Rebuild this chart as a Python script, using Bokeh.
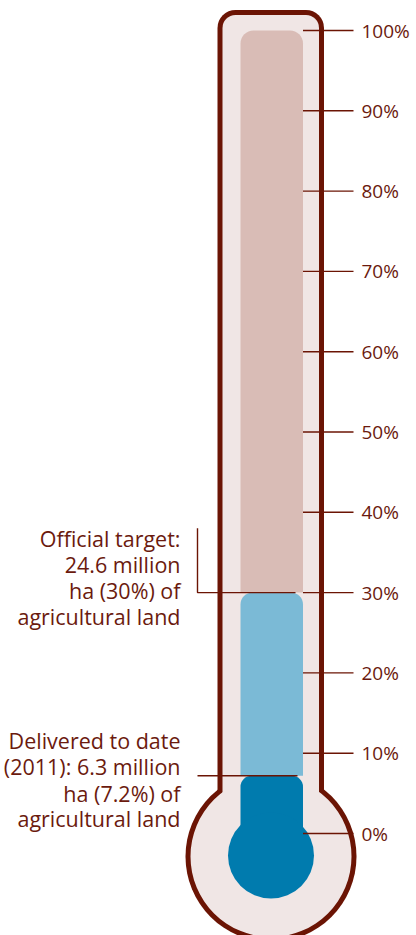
from bokeh.plotting import figure
from bokeh.models import Range1d, ColumnDataSource
from bokeh.core.properties import value
from bokeh.embed import file_html
from bokeh.resources import INLINE

# ---- data ----
tick_values = [0, 10, 20, 30, 40, 50, 60, 70, 80, 90, 100]
tick_labels = ["0%", "10%", "20%", "30%", "40%", "50%", "60%", "70%", "80%", "90%", "100%"]
scale_max = 100
official_target = 30.0
delivered = 7.2
target_lines = ["Official target:", "24.6 million", "ha (30%) of", "agricultural land"]
delivered_lines = ["Delivered to date", "(2011): 6.3 million", "ha (7.2%) of", "agricultural land"]

# ---- style ----
DARK = "#6b1404"
TEXT = "#6b1a0e"
PINK = "#f0e6e5"
TAN = "#d9bcb6"
LBLUE = "#7bbad6"
DBLUE = "#007bae"
FONT = "Open Sans"

W, H = 416, 935
PX = 8.03          # pixels per percent point
Y0 = 833           # pixel row of 0 %
y_top = Y0 / PX
y_bot = -(H - Y0) / PX

p = figure(width=W, height=H, x_range=Range1d(0, W), y_range=Range1d(y_bot, y_top),
           output_backend="svg", toolbar_location=None, min_border=0)
p.axis.visible = False
p.grid.visible = False
p.outline_line_color = None
p.background_fill_color = "white"
p.border_fill_color = "white"

def pct(px_img):
    return (Y0 - px_img) / PX

cx = 270.5
bulb_y = pct(856)

# outer thermometer (outline)
p.circle(x=[cx], y=[bulb_y], radius=85.5, radius_units="screen", fill_color=DARK, line_color=None)
p.quad(left=[217], right=[323.5], top=[pct(9.5)], bottom=[bulb_y], fill_color=DARK, line_color=None,
       border_radius=(18, 18, 0, 0))
p.circle(x=[cx], y=[bulb_y], radius=80.5, radius_units="screen", fill_color=PINK, line_color=None)
p.quad(left=[222], right=[318.5], top=[pct(14.5)], bottom=[bulb_y], fill_color=PINK, line_color=None,
       border_radius=(13, 13, 0, 0))

# columns
col_l, col_r = 240, 302.5
p.quad(left=[col_l], right=[col_r], top=[scale_max], bottom=[official_target], fill_color=TAN,
       line_color=None, border_radius=(13, 13, 0, 0))
p.quad(left=[col_l], right=[col_r], top=[official_target], bottom=[delivered], fill_color=LBLUE,
       line_color=None, border_radius=(12, 12, 0, 0))
p.quad(left=[col_l], right=[col_r], top=[delivered], bottom=[pct(856)], fill_color=DBLUE,
       line_color=None, border_radius=(11, 11, 0, 0))
p.circle(x=[cx], y=[pct(855)], radius=43, radius_units="screen", fill_color=DBLUE, line_color=None)

# ticks
src = ColumnDataSource(dict(y=tick_values, lab=tick_labels,
                            x0=[302.5] * len(tick_values), x1=[353] * len(tick_values),
                            xt=[361] * len(tick_values)))
p.segment(x0="x0", y0="y", x1="x1", y1="y", source=src, line_color=DARK, line_width=1.4)
p.text(x="xt", y="y", text="lab", source=src, text_font=value(FONT), text_font_size="19px",
       text_color=TEXT, text_baseline="middle", text_align="left")

# annotation leaders
p.line(x=[197, 197, 295], y=[official_target + 8, official_target, official_target],
       line_color=DARK, line_width=1.4)
p.line(x=[197, 297], y=[delivered, delivered], line_color=DARK, line_width=1.4)

# annotation texts
t_off = [-54, -28, -2, 24]
d_off = [-35, -9, 18, 43]
p.text(x=[180] * 4, y=[official_target] * 4, text=target_lines, y_offset=t_off,
       text_font=value(FONT), text_font_size="21.5px", text_color=TEXT,
       text_baseline="middle", text_align="right")
p.text(x=[180] * 4, y=[delivered] * 4, text=delivered_lines, y_offset=d_off,
       text_font=value(FONT), text_font_size="21.5px", text_color=TEXT,
       text_baseline="middle", text_align="right")

open("out.html", "w").write(file_html(p, INLINE))
